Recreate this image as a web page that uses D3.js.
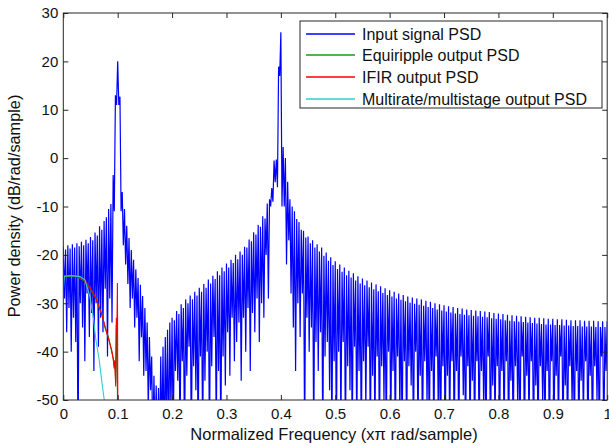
<!DOCTYPE html>
<html>
<head>
<meta charset="utf-8">
<script src="https://cdn.jsdelivr.net/npm/d3@7"></script>
<style>
  html, body { margin: 0; padding: 0; background: #fff; }
  svg { display: block; }
  text { font-family: "Liberation Sans", Arial, Helvetica, sans-serif; fill: #111; }
</style>
</head>
<body>
<svg id="chart" width="609" height="446"></svg>
<script>
// ---------------- data ----------------
const xTicks = [0, 0.1, 0.2, 0.3, 0.4, 0.5, 0.6, 0.7, 0.8, 0.9, 1];
const xTickLabels = ["0", "0.1", "0.2", "0.3", "0.4", "0.5", "0.6", "0.7", "0.8", "0.9", "1"];
const yTicks = [30, 20, 10, 0, -10, -20, -30, -40, -50];
const yTickLabels = ["30", "20", "10", "0", "-10", "-20", "-30", "-40", "-50"];

const seriesNames = ["Input signal PSD", "Equiripple output PSD", "IFIR output PSD", "Multirate/multistage output PSD"];

// Input signal PSD: local maxima on the frequency grid f = k/240 (k = 0..240), dB
const inputPeaks = [
  -18.3, -18.9, -18.0, -18.7, -17.8, -18.5, -17.6, -18.2, -17.3, -18.0, -16.9, -17.6, -16.3, -17.0, -15.4, -16.0, -14.1, -14.8, -13.0, -12.2, -10.5, -9.5, -3.5, 13.0,
  20.0, 12.7, -7.0, -10.5, -14.0, -16.5, -19.0, -21.0, -23.0, -24.8, -26.2, -28.5, -31.0, -34.0, -37.0, -41.0, -45.0, -47.0, -47.5, -41.0, -39.0, -37.0, -35.5, -34.0,
  -33.0, -33.5, -31.6, -32.2, -30.2, -31.0, -29.2, -30.0, -28.4, -29.2, -27.6, -28.4, -26.8, -27.6, -26.0, -26.8, -25.1, -25.9, -24.3, -25.0, -23.4, -24.2, -22.6, -23.4,
  -21.8, -22.6, -21.0, -21.7, -20.0, -20.9, -19.3, -20.0, -18.3, -18.5, -16.8, -17.2, -15.3, -15.8, -13.8, -14.2, -12.0, -12.5, -9.4, -8.5, -6.2, -0.5, -0.3, 18.9,
  26.0, 2.3, 0.0, -4.9, -8.5, -10.0, -11.0, -12.6, -13.2, -14.8, -15.0, -16.4, -16.2, -17.6, -17.0, -18.5, -17.8, -19.3, -18.5, -20.2, -19.5, -21.2, -20.5, -22.1,
  -21.3, -22.9, -22.0, -23.5, -22.6, -24.2, -23.3, -24.7, -23.8, -25.3, -24.4, -25.9, -24.9, -26.3, -25.3, -26.7, -25.7, -27.1, -26.1, -27.5, -26.5, -27.9, -26.9, -28.3,
  -27.3, -28.6, -27.6, -29.0, -28.0, -29.3, -28.3, -29.6, -28.6, -29.9, -28.8, -30.1, -29.0, -30.3, -29.2, -30.5, -29.5, -30.8, -29.7, -31.0, -30.0, -31.3, -30.2, -31.5,
  -30.4, -31.7, -30.6, -31.9, -30.8, -32.1, -31.0, -32.2, -31.1, -32.4, -31.3, -32.5, -31.4, -32.6, -31.5, -32.7, -31.6, -32.8, -31.7, -32.9, -31.8, -33.1, -32.0, -33.2,
  -32.1, -33.3, -32.2, -33.5, -32.4, -33.6, -32.5, -33.7, -32.6, -33.8, -32.7, -33.9, -32.8, -34.0, -32.9, -34.1, -33.0, -34.2, -33.0, -34.3, -33.1, -34.4, -33.2, -34.4,
  -33.2, -34.5, -33.3, -34.5, -33.3, -34.6, -33.4, -34.6, -33.5, -34.7, -33.5, -34.7, -33.5, -34.8, -33.6, -34.8, -33.6, -34.8, -33.6, -34.9, -33.7, -34.9, -33.7, -34.9,
  -33.7
];
// Input signal PSD: nulls between the maxima, at f = (k + 0.5)/240 (k = 0..239), dB
const inputTroughs = [
  -29, -36, -31, -40, -33, -38, -62, -30, -35, -42, -28, -37, -32, -44, -30, -39, -33, -36, -27, -41, -29, -34, -11, 11,
  11, -11, -18, -22, -26, -31, -29, -35, -33, -42, -37, -45, -44, -52, -48, -60, -58, -62, -60, -58, -62, -56, -60, -52,
  -60, -44, -46, -58, -42, -60, -45, -39, -60, -43, -48, -60, -41, -60, -46, -40, -60, -43, -37, -58, -44, -60, -41, -47,
  -36, -45, -33, -42, -38, -34, -46, -33, -40, -31, -44, -32, -36, -29, -38, -30, -33, -20, -29, -10, -9, -5, -6, 17,
  -10, -10, -22, -17, -28, -35, -44, -30, -37, -28, -60, -33, -40, -35, -60, -38, -44, -36, -60, -41, -38, -48, -60, -42,
  -60, -40, -56, -38, -60, -43, -48, -60, -39, -58, -44, -60, -42, -52, -39, -60, -45, -58, -41, -60, -43, -50, -60, -40,
  -58, -44, -60, -41, -53, -60, -42, -60, -43, -47, -60, -40, -58, -45, -60, -42, -51, -60, -44, -60, -41, -55, -60, -43,
  -60, -45, -57, -42, -60, -44, -60, -41, -49, -60, -43, -58, -46, -60, -42, -60, -44, -52, -60, -41, -60, -47, -56, -43,
  -60, -44, -58, -42, -60, -46, -60, -43, -51, -60, -41, -60, -45, -56, -42, -60, -47, -60, -43, -50, -60, -44, -60, -42,
  -60, -45, -57, -41, -60, -47, -60, -43, -51, -60, -44, -60, -46, -55, -42, -60, -45, -60, -43, -50, -60, -41, -60, -44
];

// Equiripple output PSD
const equiFreqs = [0, 0.012, 0.025, 0.037, 0.049, 0.055, 0.061, 0.066, 0.071, 0.077, 0.083, 0.089, 0.092, 0.0935, 0.0945, 0.0955, 0.0963, 0.0975, 0.0985, 0.0995, 0.1005];
const equiValues = [-24.5, -24.4, -24.6, -25.3, -26.9, -28.2, -29.0, -31.0, -32.2, -35.2, -37.0, -40.0, -41.5, -43.0, -42.5, -44.0, -46.5, -34.5, -35.0, -48.5, -60];

// IFIR output PSD
const ifirFreqs = [0, 0.012, 0.025, 0.037, 0.049, 0.055, 0.061, 0.066, 0.071, 0.077, 0.083, 0.089, 0.092, 0.0935, 0.0945, 0.0955, 0.0963, 0.0975, 0.0985, 0.0995, 0.1005];
const ifirValues = [-24.4, -24.2, -24.4, -25.1, -26.7, -27.9, -29.3, -30.8, -32.4, -34.9, -37.3, -39.7, -41.7, -43.5, -41.8, -44.5, -47.2, -33.0, -36.0, -25.8, -60];

// Multirate/multistage output PSD
const multiFreqs = [0, 0.002, 0.015, 0.031, 0.04, 0.049, 0.055, 0.06, 0.066, 0.0705, 0.0753, 0.078];
const multiValues = [-27.4, -24.4, -24.3, -24.5, -25.2, -28.7, -32.8, -37.6, -41.7, -45.9, -50, -53];

const seriesColors = ["#0000ff", "#008000", "#ff0000", "#33cccc"];
const legendColors = ["#0000ff", "#1a9a1a", "#ff0000", "#33cccc"];

// ---------------- layout ----------------
const svg = d3.select("#chart");
const plot = { left: 63.3, right: 607.2, top: 13, bottom: 400 };

const x = d3.scaleLinear().domain([0, 1]).range([plot.left, plot.right]);
const y = d3.scaleLinear().domain([-50, 30]).range([plot.bottom, plot.top]);

svg.append("defs").append("clipPath").attr("id", "clip")
  .append("rect")
  .attr("x", plot.left).attr("y", plot.top)
  .attr("width", plot.right - plot.left).attr("height", plot.bottom - plot.top);

// build input series (maxima and nulls interleaved on the frequency grid)
const gridN = inputPeaks.length - 1;
const inputSeries = [];
inputPeaks.forEach((v, k) => {
  inputSeries.push([k / gridN, v]);
  if (k < inputTroughs.length) inputSeries.push([(k + 0.5) / gridN, inputTroughs[k]]);
});

const zip = (fs, vs) => fs.map((f, i) => [f, vs[i]]);
const series = [
  inputSeries,
  zip(equiFreqs, equiValues),
  zip(ifirFreqs, ifirValues),
  zip(multiFreqs, multiValues)
];
const widths = [1.2, 1.1, 1.1, 1.1];

const line = d3.line().x(d => x(d[0])).y(d => y(d[1]));

const g = svg.append("g").attr("clip-path", "url(#clip)");
series.forEach((s, i) => {
  g.append("path")
    .datum(s)
    .attr("fill", "none")
    .attr("stroke", seriesColors[i])
    .attr("stroke-width", widths[i])
    .attr("stroke-linejoin", "miter")
    .attr("d", line);
});

// ---------------- axes ----------------
const axisColor = "#262626";
const fontTick = 15;

const xAxis = svg.append("g").attr("transform", `translate(0,${plot.bottom})`)
  .call(d3.axisBottom(x).tickValues(xTicks).tickFormat((d, i) => xTickLabels[i]).tickSize(-5).tickPadding(8));
const xTop = svg.append("g").attr("transform", `translate(0,${plot.top})`)
  .call(d3.axisTop(x).tickValues(xTicks).tickFormat("").tickSize(-5));
const yAxis = svg.append("g").attr("transform", `translate(${plot.left},0)`)
  .call(d3.axisLeft(y).tickValues(yTicks).tickFormat((d, i) => yTickLabels[i]).tickSize(-5).tickPadding(5));
const yRight = svg.append("g").attr("transform", `translate(${plot.right},0)`)
  .call(d3.axisRight(y).tickValues(yTicks).tickFormat("").tickSize(-5));

[xAxis, xTop, yAxis, yRight].forEach(a => {
  a.select(".domain").remove();
  a.selectAll(".tick line").attr("stroke", axisColor);
  a.selectAll(".tick text").attr("font-size", fontTick).attr("fill", axisColor)
    .style("font-family", '"Liberation Sans", Arial, sans-serif');
});

svg.append("rect")
  .attr("x", plot.left).attr("y", plot.top)
  .attr("width", plot.right - plot.left).attr("height", plot.bottom - plot.top)
  .attr("fill", "none").attr("stroke", axisColor).attr("stroke-width", 1);

// axis titles
svg.append("text")
  .attr("x", 334).attr("y", 440)
  .attr("text-anchor", "middle").attr("font-size", 16.5).attr("fill", axisColor)
  .text("Normalized Frequency (x\u03c0 rad/sample)");

svg.append("text")
  .attr("transform", `translate(20,206) rotate(-90)`)
  .attr("text-anchor", "middle").attr("font-size", 16.3).attr("fill", axisColor)
  .text("Power density (dB/rad/sample)");

// ---------------- legend ----------------
const legend = { left: 300, top: 21, width: 302, height: 87 };
const lg = svg.append("g");
lg.append("rect")
  .attr("x", legend.left).attr("y", legend.top)
  .attr("width", legend.width).attr("height", legend.height)
  .attr("fill", "#fff").attr("stroke", axisColor).attr("stroke-width", 1);

seriesNames.forEach((name, i) => {
  const cy = Math.round(legend.top + 12.5 + i * 21.7);
  lg.append("line")
    .attr("x1", legend.left + 6).attr("x2", legend.left + 55)
    .attr("y1", cy).attr("y2", cy)
    .attr("stroke", legendColors[i]).attr("stroke-width", 1.3);
  lg.append("text")
    .attr("x", legend.left + 62).attr("y", cy + 5.5)
    .attr("font-size", 16).attr("fill", "#111")
    .text(name);
});
</script>
</body>
</html>
